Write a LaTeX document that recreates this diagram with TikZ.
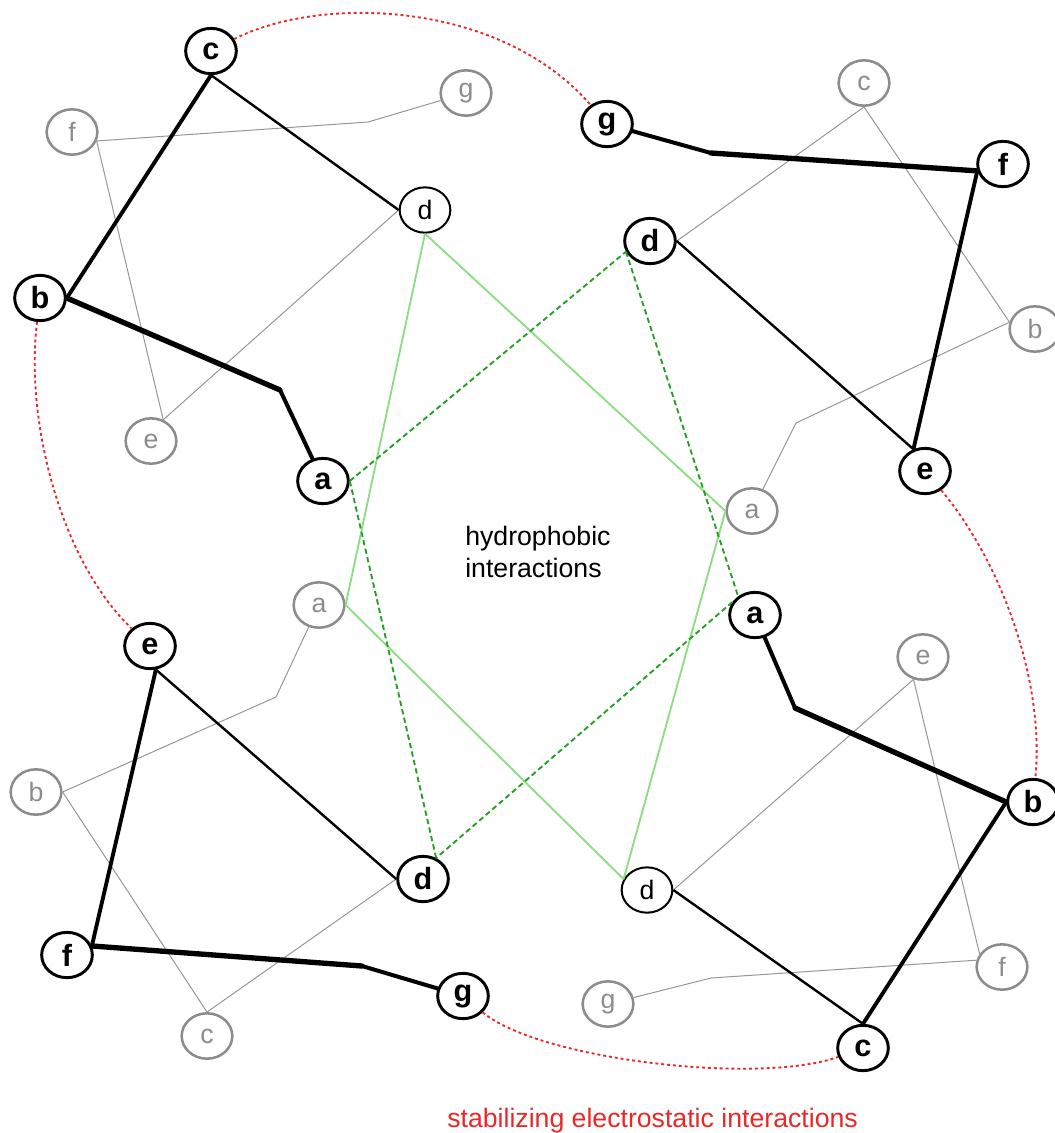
\documentclass[tikz,border=0pt]{standalone}
\usepackage{fontspec}
\setmainfont{Liberation Sans}
\usetikzlibrary{shapes.geometric}
\definecolor{grayc}{RGB}{140,140,140}
\definecolor{grayl}{RGB}{150,150,150}
\definecolor{glight}{RGB}{140,222,130}
\definecolor{gdark}{RGB}{34,160,34}
\definecolor{redc}{RGB}{232,40,40}
\begin{document}
\begin{tikzpicture}[x=0.75pt,y=-0.75pt,
  nd/.style={ellipse,draw,minimum width=38pt,minimum height=34pt,inner sep=0pt},
  bk/.style={nd,line width=2.2pt,font=\fontsize{23}{23}\selectfont\bfseries},
  pl/.style={nd,line width=1.5pt,font=\fontsize{20}{20}\selectfont},
  gy/.style={nd,draw=grayc,text=grayc,line width=1.9pt,font=\fontsize{20}{20}\selectfont},
  vthick/.style={line width=4pt,line cap=round},
  shthick/.style={line width=3pt,line cap=round},
  thk/.style={line width=2.9pt},
  med/.style={line width=1.8pt},
  gl/.style={draw=grayl,line width=0.75pt},
  lg/.style={draw=glight,line width=1.4pt},
  dg/.style={draw=gdark,line width=1.4pt,dash pattern=on 4pt off 2.5pt},
  rd/.style={draw=redc,line width=1.4pt,dash pattern=on 2.2pt off 2.2pt},
  lbl/.style={anchor=base west,inner sep=0pt,font=\fontsize{20}{20}\selectfont}]
\useasboundingbox (0,0) rectangle (1055,1133);

% nodes
\node[bk] (c1) at (211,51) {c};
\node[gy] (gG1) at (466,93) {g};
\node[gy] (fG1) at (72,132) {f};
\node[bk] (g1) at (607,124) {g};
\node[gy] (cG2) at (864,83) {c};
\node[bk] (f1) at (1003,164) {f};
\node[pl] (d1) at (425,210) {d};
\node[bk] (d2) at (650,241) {d};
\node[bk] (b1) at (40,298) {b};
\node[gy] (bG2) at (1035,329) {b};
\node[gy] (eG1) at (151,441) {e};
\node[bk] (e1) at (925,471) {e};
\node[bk] (a1) at (323,481) {a};
\node[gy] (aG2) at (752,511) {a};
\node[gy] (aG3) at (319,605) {a};
\node[bk] (a2) at (755,615) {a};
\node[bk] (e2) at (150,646) {e};
\node[gy] (eG4) at (923,657) {e};
\node[gy] (bG3) at (36,792) {b};
\node[bk] (b2) at (1033,802) {b};
\node[bk] (d4) at (423,879) {d};
\node[pl] (d3) at (647,890) {d};
\node[bk] (f2) at (67,955) {f};
\node[gy] (fG4) at (1002,967) {f};
\node[bk] (g2) at (463,996) {g};
\node[gy] (gG4) at (608,1004) {g};
\node[gy] (cG3) at (207,1036) {c};
\node[bk] (c2) at (863,1048) {c};

% bends
\coordinate (k1) at (280,390);
\coordinate (kg1) at (368,122);
\coordinate (k2) at (711,153);
\coordinate (kg2) at (796,423);
\coordinate (k3) at (795,708);
\coordinate (kg3) at (711,978);
\coordinate (k4) at (362,966);
\coordinate (kg4) at (276,697);

% grey back strands
\draw[gl] (d1.west) -- (eG1.60);
\draw[gl] (fG1.-20) -- (eG1.60);
\draw[gl] (fG1.-20) -- (kg1) -- (gG1);
\draw[gl] (d2.east) -- (cG2.south);
\draw[gl] (cG2.south) -- (bG2.165);
\draw[gl] (bG2.165) -- (kg2) -- (aG2);
\draw[gl] (d3.east) -- (eG4.-113);
\draw[gl] (eG4.-113) -- (fG4.150);
\draw[gl] (fG4.165) -- (kg3) -- (gG4);
\draw[gl] (d4.west) -- (cG3.north);
\draw[gl] (cG3.north) -- (bG3.east);
\draw[gl] (bG3.east) -- (kg4) -- (aG3);

% light green
\draw[lg] (d1.south) -- (aG2.west);
\draw[lg] (aG2.west) -- (d3.155);
\draw[lg] (d1.south) -- (aG3.east);
\draw[lg] (aG3.east) -- (d3.155);

% dark green dashed
\draw[dg] (a1.east) -- (d2.204);
\draw[dg] (d2.204) -- (a2.132);
\draw[dg] (a2.150) -- (d4.58);
\draw[dg] (d4.58) -- (a1.east);

% black front strands
\draw[thk] (c1.south) -- (b1.east);
\draw[med] (c1.south) -- (d1.west);
\draw[vthick] (b1.east) -- (k1);
\draw[shthick] (k1) -- (a1);

\draw[shthick] (g1) -- (k2);
\draw[vthick] (k2) -- (f1.195);
\draw[thk] (f1.195) -- (e1.118);
\draw[med] (d2.east) -- (e1.118);

\draw[shthick] (a2) -- (k3);
\draw[vthick] (k3) -- (b2.west);
\draw[thk] (b2.west) -- (c2.north);
\draw[med] (c2.north) -- (d3.east);

\draw[thk] (e2.-76) -- (f2.20);
\draw[med] (e2.-76) -- (d4.west);
\draw[vthick] (f2.20) -- (k4);
\draw[shthick] (k4) -- (g2);

% red electrostatic
\draw[rd] (c1) .. controls (320,-5) and (500,0) .. (g1);
\draw[rd] (b1) .. controls (25,420) and (60,560) .. (e2);
\draw[rd] (e1) .. controls (1000,560) and (1045,680) .. (b2);
\draw[rd] (g2) .. controls (540,1060) and (760,1085) .. (c2);

% labels
\node[lbl] (h1) at (465,545) {hydrophobic};
\node[lbl] (h2) at (465,577) {interactions};
\node[lbl,text=redc] (s1) at (447,1127) {stabilizing electrostatic interactions};
\end{tikzpicture}
\end{document}
